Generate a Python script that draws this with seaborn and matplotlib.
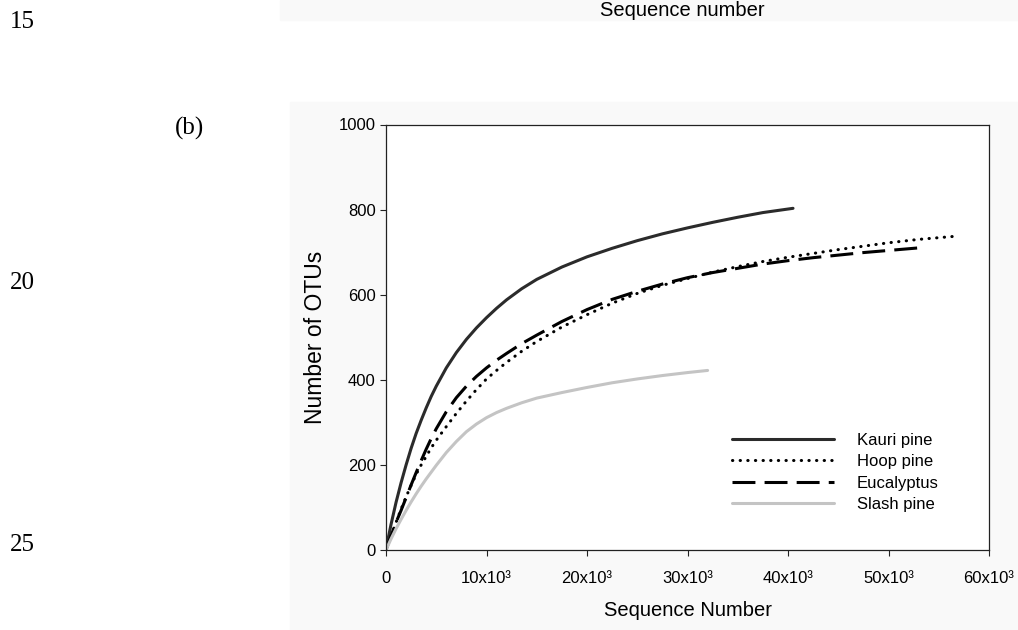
import pandas as pd
import seaborn as sns
import matplotlib.pyplot as plt
from matplotlib.patches import Rectangle

# rarefaction data
kauri_x = [0, 250, 500, 1000, 1500, 2000, 2500, 3000, 3500, 4000, 4500, 5000, 6000, 7000,
           8000, 9000, 10000, 11000, 12000, 13500, 15000, 17500, 20000, 22500, 25000,
           27500, 30000, 32500, 35000, 37500, 40500]
kauri_y = [0, 31, 60, 112, 158, 200, 239, 274, 305, 334, 361, 385, 428, 464,
           495, 522, 546, 568, 588, 614, 636, 665, 689, 709, 727,
           743, 757, 770, 782, 793, 803]

hoop_x = [0, 250, 500, 1000, 1500, 2000, 2500, 3000, 3500, 4000, 4500, 5000, 6000, 7000,
          8000, 9000, 10000, 11000, 12000, 13500, 15000, 17500, 20000, 22500, 25000,
          27500, 30000, 32500, 35000, 37500, 40000, 42500, 45000, 47500, 50000, 53000, 56500]
hoop_y = [0, 17, 33, 65, 96, 125, 152, 178, 200, 220, 240, 258, 290, 321,
          350, 377, 402, 422, 441, 467, 490, 524, 553, 580, 603,
          622, 638, 653, 666, 678, 688, 697, 706, 714, 722, 730, 737]

euc_x = [0, 250, 500, 1000, 1500, 2000, 2500, 3000, 3500, 4000, 4500, 5000, 6000, 7000,
         8000, 9000, 10000, 11000, 12000, 13500, 15000, 17500, 20000, 22500, 25000,
         27500, 30000, 32500, 35000, 37500, 40000, 42500, 45000, 47500, 50000, 53500]
euc_y = [0, 17, 33, 65, 93, 123, 153, 182, 210, 237, 262, 285, 325, 358,
         385, 408, 428, 446, 462, 485, 505, 537, 565, 589, 608,
         625, 640, 652, 662, 672, 680, 687, 693, 699, 704, 711]

slash_x = [0, 250, 500, 1000, 1500, 2000, 2500, 3000, 3500, 4000, 4500, 5000, 6000, 7000,
           8000, 9000, 10000, 11000, 12000, 13500, 15000, 17500, 20000, 22500, 25000,
           27500, 30000, 32000]
slash_y = [0, 13, 26, 50, 72, 93, 113, 132, 150, 167, 183, 199, 229, 255,
           278, 296, 311, 323, 333, 346, 357, 370, 382, 393, 402,
           410, 417, 422]

x_ticks = [0, 10000, 20000, 30000, 40000, 50000, 60000]
x_tick_labels = ["0", "10x10³", "20x10³", "30x10³", "40x10³", "50x10³", "60x10³"]
y_ticks = [0, 200, 400, 600, 800, 1000]

sns.set_style("ticks")
plt.rcParams['font.family'] = ['Liberation Sans', 'DejaVu Sans']
plt.rcParams['text.color'] = 'black'
plt.rcParams['axes.labelcolor'] = 'black'
plt.rcParams['xtick.color'] = 'black'
plt.rcParams['ytick.color'] = 'black'

fig = plt.figure(figsize=(10.18, 6.3), dpi=100)

# page background bits (scanned figure panels are slightly off-white)
fig.patches.append(Rectangle((290 / 1018, 0), 1 - 290 / 1018, 1 - 102 / 630,
                             transform=fig.transFigure, color='#f9f9f9', zorder=-10))
fig.patches.append(Rectangle((280 / 1018, 1 - 20 / 630), 1 - 280 / 1018, 20 / 630,
                             transform=fig.transFigure, color='#f9f9f9', zorder=-10))

ax = fig.add_axes([386 / 1018, 1 - 550 / 630, (989 - 386) / 1018, (550 - 124.5) / 630])
ax.set_zorder(2)
ax.set_facecolor('white')

lw = 2.2
sns.lineplot(x=kauri_x, y=kauri_y, ax=ax, color='#2b2b2b', lw=lw, label='Kauri pine')
sns.lineplot(x=hoop_x, y=hoop_y, ax=ax, color='black', lw=lw, label='Hoop pine')
sns.lineplot(x=euc_x, y=euc_y, ax=ax, color='black', lw=lw, label='Eucalyptus')
sns.lineplot(x=slash_x, y=slash_y, ax=ax, color='#c4c4c4', lw=lw, label='Slash pine')

lines = ax.get_lines()
lines[1].set_dashes((0.1, 2.4))
lines[1].set_dash_capstyle('round')
lines[2].set_dashes((7.5, 3.0))
for ln in lines:
    ln.set_solid_capstyle('round')
    ln.set_solid_joinstyle('round')

ax.set_xlim(0, 60000)
ax.set_ylim(0, 1000)
ax.set_xticks(x_ticks)
ax.set_xticklabels(x_tick_labels)
ax.set_yticks(y_ticks)
ax.tick_params(labelsize=12, length=4.5, width=0.8, color='#222222', pad=3)
ax.tick_params(axis='x', pad=10.5)
for s in ax.spines.values():
    s.set_visible(True)
    s.set_linewidth(0.9)
    s.set_color('#222222')

ax.set_xlabel("Sequence Number", fontsize=14.5, labelpad=11)
ax.set_ylabel("Number of OTUs", fontsize=16.5, labelpad=8)

ax.legend(loc='upper left', bbox_to_anchor=(0.574, 0.275), frameon=False,
          fontsize=12, handlelength=6.1, handletextpad=1.4, labelspacing=0.38,
          borderpad=0, borderaxespad=0)

# surrounding page text
serif = ['Liberation Serif', 'DejaVu Serif']
fig.text(10 / 1018, 1 - 22 / 630, "15", family=serif, fontsize=18, va='center')
fig.text(10 / 1018, 1 - 283 / 630, "20", family=serif, fontsize=18, va='center')
fig.text(10 / 1018, 1 - 545 / 630, "25", family=serif, fontsize=18, va='center')
fig.text(175 / 1018, 1 - 128 / 630, "(b)", family=serif, fontsize=18, va='center')
fig.text(682 / 1018, 1 - 1 / 630, "Sequence number", fontsize=14.5, ha='center', va='top')

fig.savefig("out.png", dpi=100)
